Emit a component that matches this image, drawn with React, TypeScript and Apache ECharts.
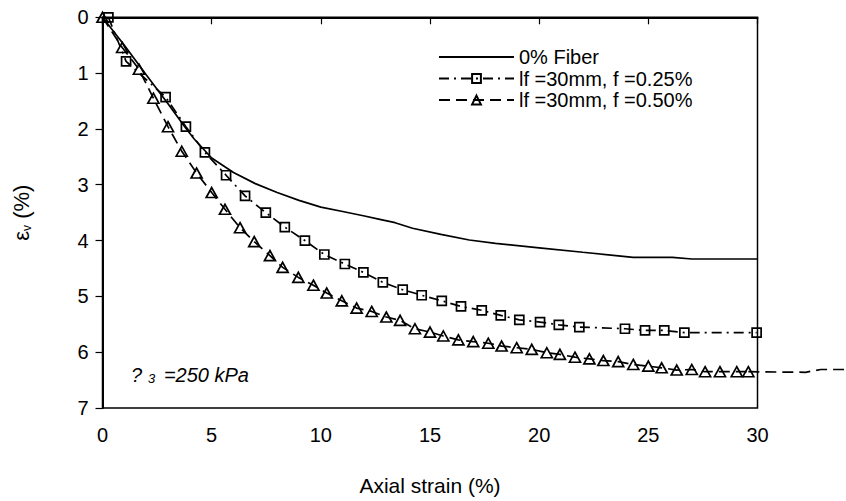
import React, { useEffect, useRef } from "react";
import * as echarts from "echarts";

const FONT = "'Liberation Sans', Arial, sans-serif";

const seriesNames = ["0% Fiber", "lf =30mm, f =0.25%", "lf =30mm, f =0.50%"];

const fiber0X = [0, 1, 2, 3, 3.8, 4.2, 5, 6, 7, 8, 9, 10, 11, 12, 12.7, 13.4, 14.2, 15.5, 16.8, 18, 20, 22, 24.3, 26.1, 27, 30];
const fiber0Y = [0, 0.5, 1.03, 1.55, 1.98, 2.18, 2.52, 2.78, 2.98, 3.14, 3.28, 3.4, 3.48, 3.56, 3.62, 3.68, 3.78, 3.89, 3.99, 4.05, 4.13, 4.21, 4.3, 4.3, 4.33, 4.33];

const f025X = [0.27, 1.08, 2.89, 3.82, 4.69, 5.66, 6.53, 7.48, 8.35, 9.27, 10.16, 11.1, 11.95, 12.84, 13.75, 14.62, 15.54, 16.42, 17.37, 18.24, 19.09, 20.04, 20.9, 21.84, 23.93, 24.85, 25.73, 26.65, 29.96];
const f025Y = [0, 0.79, 1.43, 1.96, 2.42, 2.83, 3.2, 3.5, 3.76, 4.0, 4.25, 4.42, 4.57, 4.75, 4.88, 4.98, 5.08, 5.18, 5.25, 5.34, 5.42, 5.46, 5.51, 5.55, 5.58, 5.61, 5.61, 5.65, 5.65];

const f050X = [0, 0.9, 1.67, 2.33, 3.0, 3.63, 4.31, 5.0, 5.61, 6.3, 6.95, 7.67, 8.25, 8.97, 9.66, 10.27, 10.96, 11.64, 12.33, 13.0, 13.63, 14.31, 15.0, 15.61, 16.3, 16.98, 17.67, 18.28, 18.97, 19.66, 20.35, 20.95, 21.64, 22.3, 22.94, 23.62, 24.31, 25.0, 25.61, 26.3, 26.99, 27.6, 28.28, 29.05, 29.58];
const f050Y = [0, 0.54, 0.93, 1.45, 1.96, 2.4, 2.79, 3.14, 3.44, 3.77, 4.02, 4.27, 4.48, 4.66, 4.8, 4.94, 5.08, 5.21, 5.27, 5.37, 5.43, 5.58, 5.64, 5.71, 5.78, 5.81, 5.84, 5.89, 5.92, 5.95, 6.01, 6.04, 6.09, 6.12, 6.15, 6.17, 6.22, 6.25, 6.28, 6.32, 6.31, 6.35, 6.35, 6.35, 6.35];
// stray continuation of the dashed line drawn past the plot frame
const f050TailX = [29.58, 32.2, 32.9, 40];
const f050TailY = [6.35, 6.36, 6.31, 6.31];

const xMin = 0, xMax = 30, xStep = 5;
const yMin = 0, yMax = 7, yStep = 1;

export default function App() {
  const ref = useRef<HTMLDivElement>(null);
  useEffect(() => {
    if (!ref.current) return;
    const chart = echarts.init(ref.current, null, { renderer: "svg" });
    const zip = (xs: number[], ys: number[]) => xs.map((x, i) => [x, ys[i]]);
    chart.setOption({
      animation: false,
      backgroundColor: "#ffffff",
      textStyle: { fontFamily: FONT, color: "#000" },
      grid: {
        left: 102.5, right: 88.5, top: 17.3, bottom: 90.3,
        show: true, borderColor: "#000", borderWidth: 1.5, backgroundColor: "transparent",
      },
      legend: {
        orient: "vertical",
        left: 433, top: 42,
        itemWidth: 75, itemHeight: 11, itemGap: 1.5,
        textStyle: { fontFamily: FONT, fontSize: 20, color: "#000" },
        data: [
          { name: seriesNames[0], itemStyle: { color: "rgba(0,0,0,0)", borderColor: "rgba(0,0,0,0)", borderWidth: 0 } },
          { name: seriesNames[1] },
          { name: seriesNames[2] },
        ],
      },
      xAxis: {
        type: "value", min: xMin, max: xMax, interval: xStep,
        name: "Axial strain (%)", nameLocation: "middle", nameGap: 67,
        nameTextStyle: { fontFamily: FONT, fontSize: 21, color: "#000" },
        axisLine: { lineStyle: { color: "#000", width: 2 } },
        axisTick: { show: true, inside: false, length: 7, lineStyle: { color: "#000", width: 1.2 } },
        axisLabel: { fontFamily: FONT, fontSize: 20, color: "#000", margin: 17 },
        splitLine: { show: false },
      },
      yAxis: {
        type: "value", min: yMin, max: yMax, interval: yStep, inverse: true,
        name: "ε{sub|v} (%)", nameLocation: "middle", nameGap: 70, nameRotate: 90,
        nameTextStyle: {
          fontFamily: FONT, fontSize: 22, color: "#000",
          rich: { sub: { fontFamily: FONT, fontSize: 12, color: "#000", verticalAlign: "bottom", padding: [9, 0, 0, 0] } },
        },
        axisLine: { lineStyle: { color: "#000", width: 2 } },
        axisTick: { show: true, inside: false, length: 7, lineStyle: { color: "#000", width: 1.2 } },
        axisLabel: { fontFamily: FONT, fontSize: 20, color: "#000", margin: 14 },
        splitLine: { show: false },
      },
      series: [
        {
          name: seriesNames[0], type: "line", data: zip(fiber0X, fiber0Y),
          symbol: "none", lineStyle: { color: "#000", width: 1.7, type: "solid" },
          itemStyle: { color: "#000" },
        },
        {
          name: seriesNames[1], type: "line", data: zip(f025X, f025Y), clip: false,
          symbol: "rect", symbolSize: 9, showAllSymbol: true,
          lineStyle: { color: "#000", width: 1.7, type: [10, 5, 2, 5] },
          itemStyle: { color: "rgba(255,255,255,0)", borderColor: "#000", borderWidth: 1.7 },
        },
        {
          name: seriesNames[2], type: "line", data: zip(f050X, f050Y), clip: false,
          symbol: "triangle", symbolSize: [11, 10], showAllSymbol: true,
          lineStyle: { color: "#000", width: 1.7, type: [11, 6] },
          itemStyle: { color: "rgba(255,255,255,0)", borderColor: "#000", borderWidth: 1.7 },
        },
      ],
    });
    const tailPts = zip(f050TailX, f050TailY).map((p) => chart.convertToPixel({ gridIndex: 0 }, p) as number[]);
    chart.setOption({
      graphic: [
        {
          type: "text", left: 131, top: 365,
          style: {
            text: "{a|?}{s|3}{a| =250 kPa}",
            rich: {
              a: { fontFamily: FONT, fontSize: 20, fontStyle: "italic", fill: "#000" },
              s: { fontFamily: FONT, fontSize: 13, fontStyle: "italic", fill: "#000", padding: [6, 3, 0, 6] },
            },
          },
        },
        {
          type: "polyline", silent: true,
          shape: { points: tailPts },
          style: { stroke: "#000", lineWidth: 1.7, fill: null, lineDash: [11, 6] },
        },
      ],
    });
    return () => chart.dispose();
  }, []);
  return <div ref={ref} style={{ position: "fixed", left: 0, top: 0, width: 846, height: 501 }} />;
}
